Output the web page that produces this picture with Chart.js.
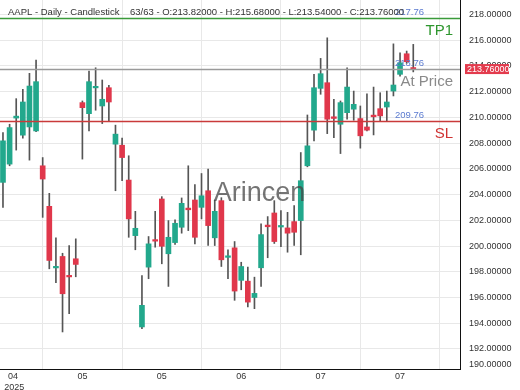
<!DOCTYPE html>
<html>
<head>
<meta charset="utf-8">
<script src="https://cdn.jsdelivr.net/npm/chart.js@4.4.1/dist/chart.umd.min.js"></script>
<style>
  html, body { margin: 0; padding: 0; background: #ffffff; }
  #wrap { width: 520px; height: 390px; }
</style>
</head>
<body>
<div id="wrap"><canvas id="candleChart" width="520" height="390"></canvas></div>
<script>
const opens = [
  204.95, 206.37, 209.95, 208.62, 209.26, 208.95, 206.24, 203.09, 198.30, 199.19,
  197.72, 199.01, 211.15, 210.29, 212.30, 210.89, 212.31, 207.92, 207.84, 205.13,
  200.81, 193.71, 198.36, 200.50, 203.66, 199.40, 200.27, 201.46, 202.95, 203.58,
  203.01, 204.30, 200.64, 203.53, 199.12, 199.86, 197.33, 197.27, 196.00, 198.31,
  201.63, 202.57, 201.48, 201.41, 201.90, 201.98, 206.24, 209.01, 212.26, 212.70,
  210.05, 209.47, 210.37, 210.64, 209.91, 209.26, 210.18, 210.68, 210.81, 212.05,
  213.35, 214.95, 213.82
];
const highs = [
  208.82, 209.47, 211.46, 212.19, 213.43, 214.46, 206.88, 204.10, 200.64, 199.44,
  200.04, 200.56, 211.28, 213.60, 213.86, 212.91, 212.50, 209.40, 208.39, 207.02,
  202.70, 197.71, 200.74, 202.70, 203.84, 201.98, 202.03, 203.74, 206.24, 204.77,
  205.64, 205.98, 203.58, 203.76, 199.71, 200.35, 198.74, 198.36, 197.58, 201.72,
  202.29, 203.53, 202.75, 202.62, 203.14, 207.27, 210.19, 213.35, 214.59, 216.19,
  211.41, 211.28, 213.86, 212.05, 210.89, 211.84, 212.36, 211.92, 212.05, 215.72,
  215.02, 215.16, 215.68
];
const lows = [
  203.00, 206.24, 207.46, 208.39, 206.68, 208.90, 202.23, 198.23, 197.15, 193.32,
  194.74, 197.61, 206.76, 208.95, 210.56, 209.52, 209.73, 204.30, 205.08, 200.68,
  199.71, 193.58, 197.46, 199.91, 198.62, 196.86, 200.12, 201.00, 201.20, 200.17,
  202.11, 200.04, 200.04, 198.41, 197.46, 195.78, 196.60, 195.26, 195.13, 196.86,
  199.09, 200.20, 199.96, 199.52, 200.04, 199.32, 206.16, 208.18, 211.80, 208.74,
  208.43, 207.19, 209.86, 209.78, 207.61, 208.95, 208.64, 209.73, 209.73, 211.67,
  213.20, 214.20, 213.54
];
const closes = [
  208.18, 209.21, 210.10, 211.20, 212.44, 212.78, 205.21, 198.88, 198.42, 196.29,
  197.60, 198.57, 210.76, 212.78, 212.42, 211.41, 211.20, 208.70, 206.88, 202.11,
  201.38, 195.39, 200.17, 200.38, 199.98, 200.68, 201.77, 203.32, 202.82, 200.68,
  203.91, 201.59, 202.70, 198.93, 199.24, 196.50, 198.41, 195.64, 196.32, 200.89,
  201.50, 200.35, 201.60, 201.00, 201.07, 205.08, 207.79, 212.31, 213.40, 209.86,
  209.92, 211.15, 212.36, 211.02, 208.57, 209.01, 210.05, 210.12, 211.20, 212.52,
  214.25, 214.33, 213.76
];

const xTickIndex = [0, 12, 24, 36, 48, 60];
const xTickLabels = [["04", "2025"], "05", "05", "06", "07", "07"];
const yTickValues = [190, 192, 194, 196, 198, 200, 202, 204, 206, 208, 210, 212, 214, 216, 218];

const tpPrice = 217.76;
const atPrice = 213.76;
const slPrice = 209.76;
const lastClose = 213.76;

const titleLeft = "AAPL - Daily - Candlestick";
const titleRight = "63/63 - O:213.82000 - H:215.68000 - L:213.54000 - C:213.76000";

const yMin = 190.44;
const yMax = 219.13;
const xMin = -0.45;
const xMax = 69.06;

const palette = {
  up: "#22a88c",
  down: "#e0374b",
  wick: "#555555",
  grid: "#e8e8e8",
  axis: "#111111",
  text: "#333333",
  tp: "#3a9a3a",
  at: "#9a9a9a",
  sl: "#c93a3a",
  price: "#5b7bd0",
  badge: "#e33b4d"
};

const fontFamily = "'Liberation Sans', Arial, sans-serif";
Chart.defaults.font.family = fontFamily;

const bodyData = opens.map((o, i) => ({ x: i, y: [o, closes[i]] }));
const wickData = lows.map((l, i) => ({ x: i, y: [l, highs[i]] }));
const bodyColors = opens.map((o, i) => (closes[i] >= o ? palette.up : palette.down));

const overlayPlugin = {
  id: "overlayPlugin",
  afterDatasetsDraw(chart) {
    const { ctx, chartArea, scales } = chart;
    const yScale = scales.y;
    const levels = [
      { price: tpPrice, color: palette.tp, name: "TP1", nameColor: "#2e962e", size: 15 },
      { price: atPrice, color: palette.at, name: "At Price", nameColor: "#8a8a8a", size: 15 },
      { price: slPrice, color: palette.sl, name: "SL", nameColor: "#d03232", size: 15 }
    ];

    ctx.save();
    levels.forEach((lvl) => {
      const y = Math.round(yScale.getPixelForValue(lvl.price)) + 0.5;
      ctx.strokeStyle = lvl.color;
      ctx.lineWidth = 1.4;
      ctx.beginPath();
      ctx.moveTo(chartArea.left, y);
      ctx.lineTo(chartArea.right, y);
      ctx.stroke();

      ctx.font = `9.5px ${fontFamily}`;
      ctx.fillStyle = palette.price;
      ctx.textAlign = "left";
      ctx.textBaseline = "middle";
      ctx.fillText(lvl.price.toFixed(2), 395, y - 6);

      ctx.font = `${lvl.size}px ${fontFamily}`;
      ctx.fillStyle = lvl.nameColor;
      ctx.textAlign = "right";
      ctx.fillText(lvl.name, 453, y + 12);
    });

    // watermark
    ctx.font = `27px ${fontFamily}`;
    ctx.fillStyle = "rgba(70, 70, 70, 0.75)";
    ctx.textAlign = "center";
    ctx.textBaseline = "middle";
    ctx.fillText("Arincen", 259.5, 194);

    // header
    ctx.font = `9.5px ${fontFamily}`;
    ctx.fillStyle = palette.text;
    ctx.textAlign = "left";
    ctx.fillText(titleLeft, 8, 12);
    ctx.fillText(titleRight, 130, 12);

    // last price badge
    const by = yScale.getPixelForValue(lastClose);
    ctx.fillStyle = palette.badge;
    ctx.fillRect(chartArea.right + 5, by - 5, 44, 10);
    ctx.fillStyle = "#ffffff";
    ctx.font = `9px ${fontFamily}`;
    ctx.fillText(lastClose.toFixed(5), chartArea.right + 7, by + 0.5);
    ctx.restore();
  }
};

new Chart(document.getElementById("candleChart"), {
  type: "bar",
  data: {
    datasets: [
      {
        label: "Body",
        data: bodyData,
        backgroundColor: bodyColors,
        borderWidth: 0,
        barThickness: 5,
        minBarLength: 1.5,
        grouped: false,
        order: 0
      },
      {
        label: "Wick",
        data: wickData,
        backgroundColor: palette.wick,
        borderWidth: 0,
        barThickness: 1,
        grouped: false,
        order: 1
      }
    ]
  },
  options: {
    responsive: false,
    animation: false,
    layout: { padding: 0 },
    plugins: {
      legend: { display: false },
      tooltip: { enabled: false }
    },
    scales: {
      x: {
        type: "linear",
        min: xMin,
        max: xMax,
        offset: false,
        afterBuildTicks: (scale) => {
          scale.ticks = xTickIndex.map((v) => ({ value: v }));
        },
        afterFit: (scale) => {
          scale.height = 21;
          scale.paddingLeft = 0;
          scale.paddingRight = 0;
        },
        grid: { color: palette.grid, drawTicks: false },
        border: { display: true, color: palette.axis, width: 1 },
        ticks: {
          padding: 2,
          autoSkip: false,
          maxRotation: 0,
          color: palette.text,
          font: { size: 9 },
          callback: (value, index) => {
            const label = xTickLabels[index];
            if (index === 0) {
              // first label sits inside the plot, like the original
              return [" ".repeat(8) + label[0], " ".repeat(9) + label[1]];
            }
            return label;
          }
        }
      },
      y: {
        type: "linear",
        position: "right",
        min: yMin,
        max: yMax,
        afterBuildTicks: (scale) => {
          scale.ticks = yTickValues.map((v) => ({ value: Math.max(v, yMin + 0.365) }));
        },
        afterFit: (scale) => {
          scale.width = 60;
          scale.paddingTop = 0;
          scale.paddingBottom = 0;
        },
        grid: {
          color: (ctx) => (ctx.index === 0 ? "rgba(0,0,0,0)" : palette.grid),
          drawTicks: false
        },
        border: { display: true, color: palette.axis, width: 1 },
        ticks: {
          padding: 9,
          autoSkip: false,
          color: palette.text,
          font: { size: 9 },
          callback: (value, index) => yTickValues[index].toFixed(5)
        }
      }
    }
  },
  plugins: [overlayPlugin]
});
</script>
</body>
</html>
